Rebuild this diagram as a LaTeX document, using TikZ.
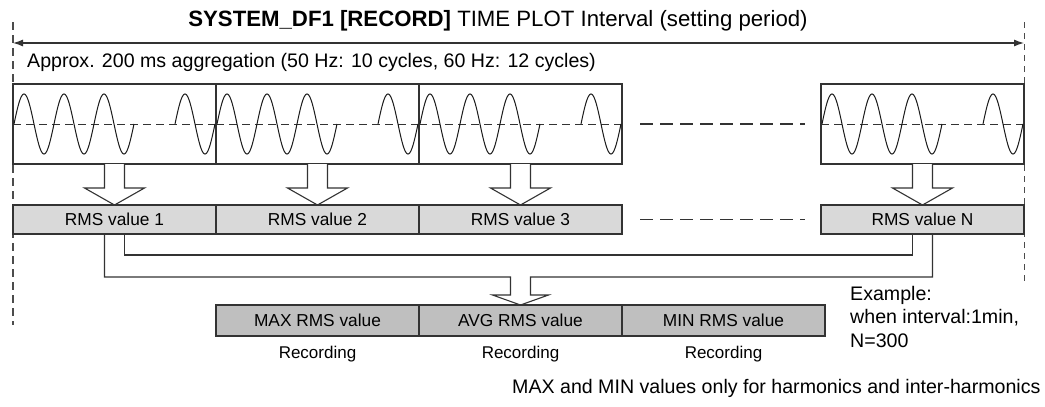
\documentclass[tikz,border=0pt]{standalone}
\usepackage{fontspec}
\setmainfont{Liberation Sans}
\usetikzlibrary{arrows.meta,calc}
\begin{document}
\begin{tikzpicture}[x=1pt,y=-1pt,
  ln/.style={draw=black!80, line width=1.1pt},
  wavebox/.style={ln, minimum width=203pt, minimum height=80pt, inner sep=0pt, outer sep=0pt},
  rmsbox/.style={ln, fill=black!15, minimum width=203pt, minimum height=29pt, inner sep=0pt, outer sep=0pt, font=\fontsize{17.3}{20}\selectfont},
  resbox/.style={ln, fill=black!25, minimum width=203pt, minimum height=31pt, inner sep=0pt, outer sep=0pt, font=\fontsize{17.3}{20}\selectfont},
  blk/.style={ln, fill=white, line join=miter},
  conn/.style={ln, line join=miter},
  wave/.style={draw=black!90, line width=1pt},
  mid/.style={draw=black!80, line width=0.9pt, dash pattern=on 8pt off 5pt},
  gapdash/.style={ln, dash pattern=on 13pt off 7pt},
  txt/.style={font=\fontsize{19.6}{23.5}\selectfont, inner sep=0pt},
  rec/.style={font=\fontsize{17}{20}\selectfont, inner sep=0pt},
  dimarrow/.style={ln, line width=1.2pt, {Latex[length=10pt,width=7pt]}-{Latex[length=10pt,width=7pt]}}
]
\useasboundingbox (0,0) rectangle (1045,407);

% boundary dashed lines
\coordinate (lt) at (13,22);
\coordinate (lb) at (13,325);
\coordinate (rt) at (1024,22);
\coordinate (rb) at (1024,283);
\draw[draw=black!70, line width=1.6pt, dash pattern=on 8pt off 5pt] (lt) -- (lb);
\draw[draw=black!70, line width=1pt, dash pattern=on 6pt off 5pt] (rt) -- (rb);

% interval arrow
\coordinate (al) at (13,43);
\coordinate (ar) at (1024,43);
\draw[dimarrow] (al) -- (ar);

% title and texts
\node[font=\fontsize{22.2}{26}\selectfont, inner sep=0pt, anchor=base] (title) at (498,26)
  {\textbf{SYSTEM\_DF1 [RECORD]} TIME PLOT Interval (setting period)};
\node[txt, anchor=base west] (agg) at (27,67)
  {Approx. 200 ms aggregation (50 Hz: 10 cycles, 60 Hz: 12 cycles)};

% wave boxes
\node[wavebox] (w1) at (114.5,124) {};
\node[wavebox] (w2) at (317.5,124) {};
\node[wavebox] (w3) at (520.5,124) {};
\node[wavebox] (w4) at (922.5,124) {};

\foreach \w in {w1,w2,w3,w4}{
  \draw[mid] (\w.west) -- (\w.east);
  \begin{scope}[shift={(\w.west)}]
    \draw[wave] plot[domain=0:120, samples=121, smooth] ({1+\x},{-30*sin(9*\x)});
    \draw[wave] plot[domain=0:40, samples=41, smooth] ({162+\x},{-30*sin(9*\x)});
  \end{scope}
}
\draw[gapdash, shorten <=18pt, shorten >=16pt] (w3.east) -- (w4.west);

% RMS boxes
\node[rmsbox] (r1) at (114.5,219.5) {RMS value 1};
\node[rmsbox] (r2) at (317.5,219.5) {RMS value 2};
\node[rmsbox] (r3) at (520.5,219.5) {RMS value 3};
\node[rmsbox] (rN) at (922.5,219.5) {RMS value N};
\draw[gapdash, shorten <=18pt, shorten >=16pt] (r3.east) -- (rN.west);

% block arrows
\foreach \w/\r in {w1/r1,w2/r2,w3/r3,w4/rN}{
  \draw[blk] ([xshift=-10pt]\w.south) -- ++(0,24) -- ++(-20,0) -- (\r.north)
     -- ++(30,-17) -- ++(-20,0) -- ([xshift=10pt]\w.south);
}

% result boxes
\node[resbox] (max) at (317.5,320.5) {MAX RMS value};
\node[resbox] (avg) at (520.5,320.5) {AVG RMS value};
\node[resbox] (min) at (723.5,320.5) {MIN RMS value};

% collecting connectors
\draw[conn] ([xshift=10pt]r1.south) -- ++(0,21) -| ([xshift=-10pt]rN.south);
\draw[conn] ([xshift=-10pt]r1.south) -- ++(0,43) -- ($(avg.north)+(-10,-28)$)
   -- ($(avg.north)+(-10,-10)$) -- ($(avg.north)+(-28,-10)$) -- (avg.north)
   -- ($(avg.north)+(28,-10)$) -- ($(avg.north)+(10,-10)$) -- ($(avg.north)+(10,-28)$)
   -| ([xshift=10pt]rN.south);

% recording labels
\node[rec, anchor=base] (rec1) at ($(max.south)+(0,22)$) {Recording};
\node[rec, anchor=base] (rec2) at ($(avg.south)+(0,22)$) {Recording};
\node[rec, anchor=base] (rec3) at ($(min.south)+(0,22)$) {Recording};

% example
\node[txt, anchor=base west] (ex1) at (850,300) {Example:};
\node[txt, anchor=base west] (ex2) at (850,323) {when interval:1min,};
\node[txt, anchor=base west] (ex3) at (850,347) {N=300};

% note
\node[txt, anchor=base west] (note) at (512,393)
  {MAX and MIN values only for harmonics and inter-harmonics};
\end{tikzpicture}
\end{document}
